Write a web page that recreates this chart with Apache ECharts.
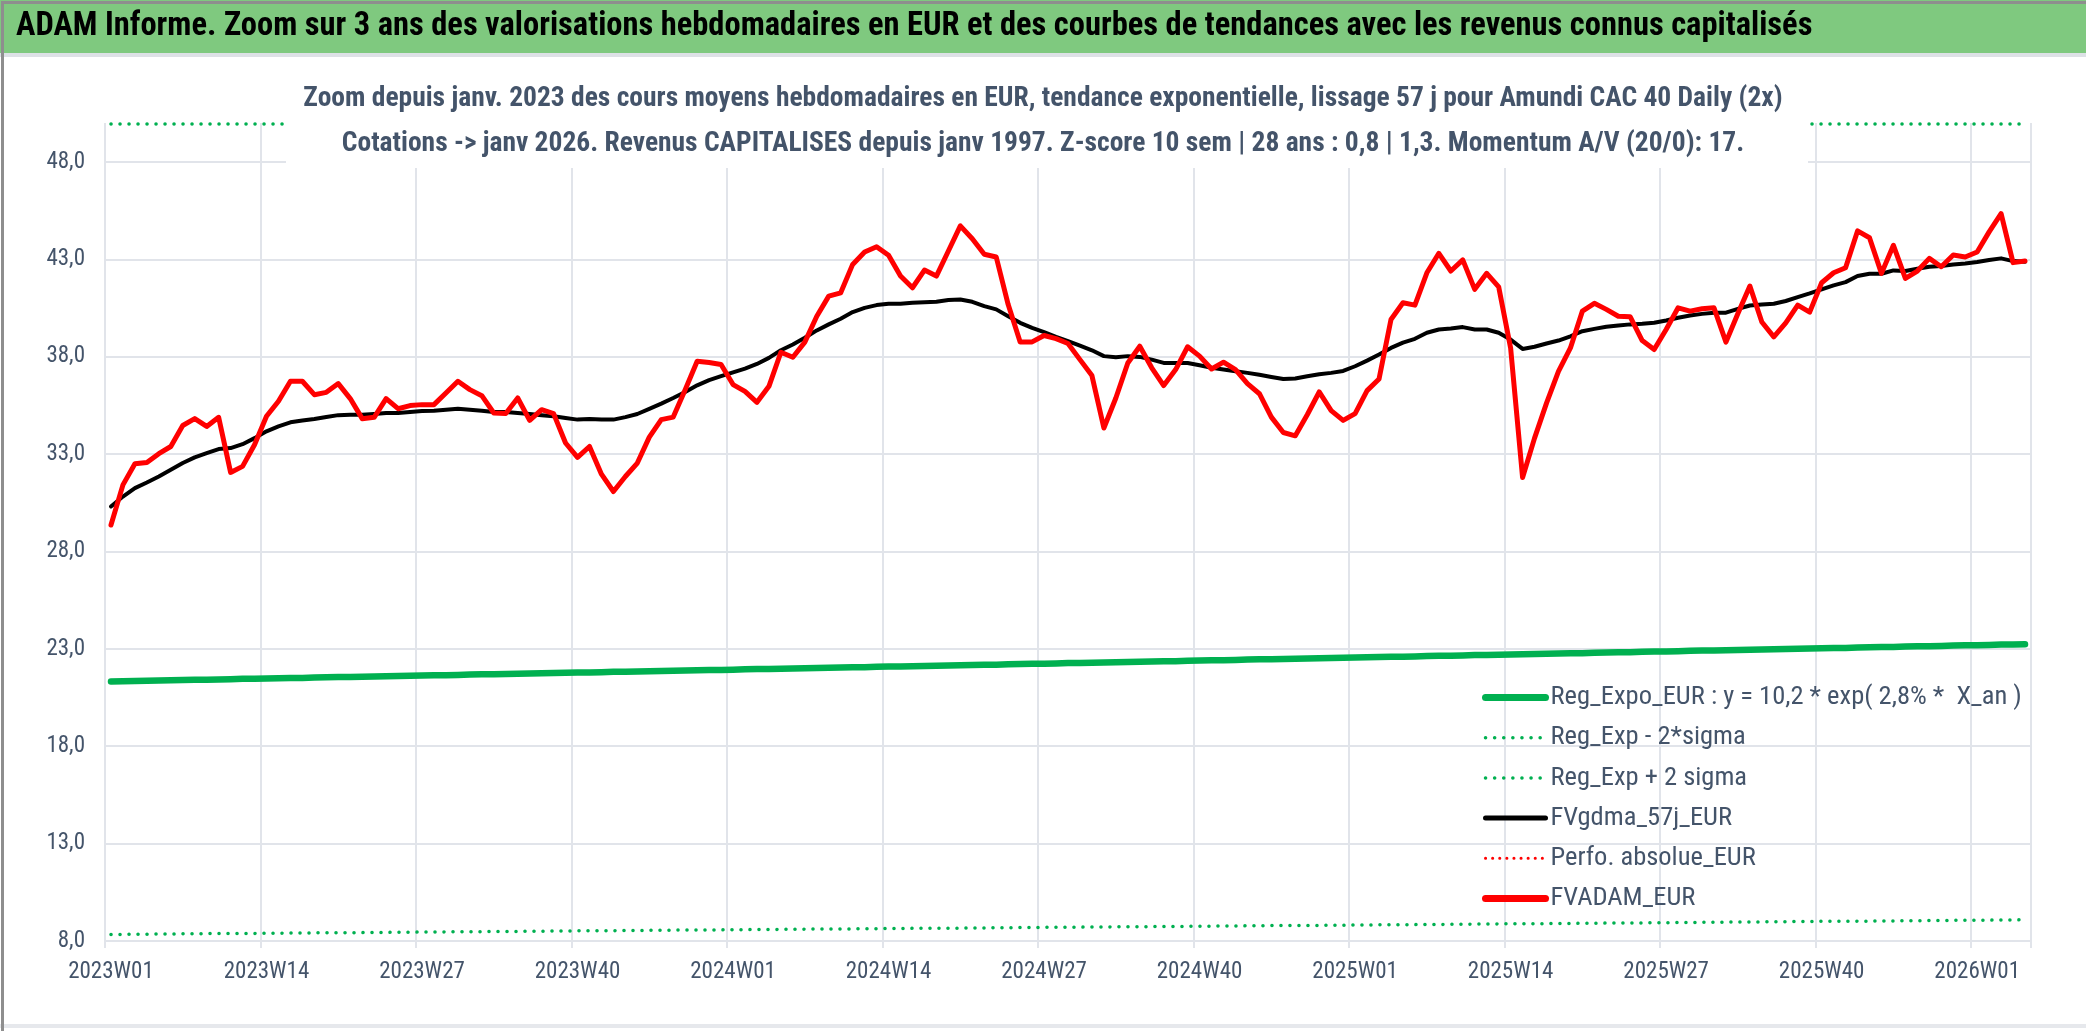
<!DOCTYPE html>
<html>
<head>
<meta charset="utf-8">
<script src="https://cdn.jsdelivr.net/npm/echarts@6/dist/echarts.min.js"></script>
<style>
html,body{margin:0;padding:0;background:#fff;}
#chart{width:2086px;height:1031px;}
</style>
</head>
<body>
<div id="chart"></div>
<script>
// ---- data ----
const yearLabels = ['2023', '2024', '2025', '2026'];
const weeksPerYear = [52, 52, 52, 5];

const fvadam = [
29.36,31.42,32.50,32.57,33.02,33.39,34.47,34.82,34.42,34.89,
32.06,32.37,33.48,34.94,35.71,36.74,36.74,36.05,36.17,36.62,
35.85,34.82,34.89,35.85,35.33,35.49,35.54,35.54,36.14,36.74,
36.31,36.00,35.11,35.08,35.88,34.73,35.28,35.08,33.57,32.83,
33.39,31.97,31.08,31.85,32.54,33.87,34.77,34.90,36.31,37.77,
37.70,37.60,36.57,36.22,35.66,36.48,38.23,37.97,38.75,40.08,
41.11,41.28,42.74,43.38,43.65,43.21,42.14,41.54,42.45,42.14,
43.43,44.72,44.06,43.26,43.12,40.68,38.76,38.76,39.09,38.93,
38.68,37.85,37.03,34.34,35.88,37.68,38.54,37.43,36.52,37.34,
38.51,38.03,37.37,37.72,37.34,36.62,36.10,34.90,34.11,33.94,
35.02,36.19,35.23,34.73,35.08,36.26,36.86,39.91,40.77,40.65,
42.31,43.31,42.40,42.97,41.46,42.28,41.59,38.45,31.80,33.82,
35.62,37.25,38.45,40.34,40.74,40.43,40.08,40.05,38.83,38.37,
39.40,40.51,40.34,40.46,40.51,38.75,40.22,41.63,39.78,39.02,
39.74,40.65,40.29,41.80,42.31,42.57,44.46,44.11,42.28,43.72,
42.02,42.40,43.05,42.62,43.22,43.12,43.38,44.41,45.35,42.83,
42.91
];

const fvgdma = [
30.31,30.82,31.25,31.54,31.85,32.19,32.54,32.83,33.05,33.26,
33.31,33.51,33.82,34.17,34.42,34.63,34.72,34.80,34.90,35.00,
35.02,35.02,35.06,35.11,35.11,35.16,35.21,35.23,35.28,35.33,
35.28,35.23,35.16,35.16,35.11,35.06,35.00,34.94,34.85,34.77,
34.80,34.77,34.77,34.90,35.06,35.32,35.59,35.88,36.19,36.53,
36.80,37.00,37.20,37.39,37.63,37.94,38.33,38.63,38.97,39.35,
39.66,39.95,40.29,40.51,40.65,40.72,40.72,40.77,40.80,40.82,
40.91,40.94,40.82,40.60,40.43,40.08,39.74,39.48,39.26,39.02,
38.80,38.57,38.33,38.03,37.97,38.03,37.99,37.85,37.68,37.68,
37.68,37.56,37.43,37.34,37.25,37.17,37.07,36.96,36.86,36.88,
37.00,37.10,37.17,37.27,37.51,37.80,38.11,38.45,38.72,38.92,
39.23,39.40,39.45,39.52,39.40,39.40,39.23,38.88,38.40,38.51,
38.68,38.83,39.05,39.31,39.43,39.54,39.60,39.66,39.69,39.74,
39.86,40.00,40.12,40.20,40.26,40.26,40.46,40.63,40.68,40.72,
40.86,41.06,41.25,41.46,41.66,41.83,42.14,42.26,42.26,42.43,
42.40,42.52,42.62,42.66,42.74,42.79,42.86,42.97,43.05,42.91,
42.88
];

const regExpo = [
21.33,21.34,21.35,21.36,21.38,21.39,21.40,21.41,21.42,21.43,
21.44,21.46,21.47,21.48,21.49,21.50,21.51,21.53,21.54,21.55,
21.56,21.57,21.58,21.59,21.61,21.62,21.63,21.64,21.65,21.66,
21.68,21.69,21.70,21.71,21.72,21.73,21.75,21.76,21.77,21.78,
21.79,21.80,21.82,21.83,21.84,21.85,21.86,21.87,21.89,21.90,
21.91,21.92,21.93,21.95,21.96,21.97,21.98,21.99,22.00,22.02,
22.03,22.04,22.05,22.06,22.08,22.09,22.10,22.11,22.12,22.13,
22.15,22.16,22.17,22.18,22.19,22.21,22.22,22.23,22.24,22.25,
22.27,22.28,22.29,22.30,22.31,22.33,22.34,22.35,22.36,22.37,
22.39,22.40,22.41,22.42,22.43,22.45,22.46,22.47,22.48,22.49,
22.51,22.52,22.53,22.54,22.55,22.57,22.58,22.59,22.60,22.61,
22.63,22.64,22.65,22.66,22.68,22.69,22.70,22.71,22.72,22.74,
22.75,22.76,22.77,22.78,22.80,22.81,22.82,22.83,22.85,22.86,
22.87,22.88,22.90,22.91,22.92,22.93,22.94,22.96,22.97,22.98,
22.99,23.01,23.02,23.03,23.04,23.05,23.07,23.08,23.09,23.10,
23.12,23.13,23.14,23.15,23.17,23.18,23.19,23.20,23.22,23.23,
23.24
];

const regLow = [
8.34,8.34,8.35,8.35,8.36,8.36,8.37,8.37,8.38,8.38,
8.38,8.39,8.39,8.40,8.40,8.41,8.41,8.42,8.42,8.43,
8.43,8.43,8.44,8.44,8.45,8.45,8.46,8.46,8.47,8.47,
8.48,8.48,8.49,8.49,8.49,8.50,8.50,8.51,8.51,8.52,
8.52,8.53,8.53,8.54,8.54,8.55,8.55,8.56,8.56,8.56,
8.57,8.57,8.58,8.58,8.59,8.59,8.60,8.60,8.61,8.61,
8.61,8.62,8.62,8.63,8.63,8.64,8.64,8.65,8.65,8.66,
8.66,8.66,8.67,8.67,8.68,8.68,8.69,8.69,8.70,8.70,
8.71,8.71,8.72,8.72,8.73,8.73,8.73,8.74,8.74,8.75,
8.75,8.76,8.76,8.77,8.77,8.78,8.78,8.79,8.79,8.80,
8.80,8.80,8.81,8.81,8.82,8.82,8.83,8.83,8.84,8.84,
8.85,8.85,8.86,8.86,8.87,8.87,8.88,8.88,8.89,8.89,
8.89,8.90,8.90,8.91,8.91,8.92,8.92,8.93,8.93,8.94,
8.94,8.95,8.95,8.96,8.96,8.97,8.97,8.98,8.98,8.99,
8.99,9.00,9.00,9.01,9.01,9.01,9.02,9.02,9.03,9.03,
9.04,9.04,9.05,9.05,9.06,9.06,9.07,9.07,9.08,9.08,
9.09
];

// upper band sits on the top edge of the plot in the picture
const regHigh = [
49.95,49.95,49.95,49.95,49.95,49.95,49.95,49.95,49.95,49.95,
49.95,49.95,49.95,49.95,49.95,49.95,49.95,49.95,49.95,49.95,
49.95,49.95,49.95,49.95,49.95,49.95,49.95,49.95,49.95,49.95,
49.95,49.95,49.95,49.95,49.95,49.95,49.95,49.95,49.95,49.95,
49.95,49.95,49.95,49.95,49.95,49.95,49.95,49.95,49.95,49.95,
49.95,49.95,49.95,49.95,49.95,49.95,49.95,49.95,49.95,49.95,
49.95,49.95,49.95,49.95,49.95,49.95,49.95,49.95,49.95,49.95,
49.95,49.95,49.95,49.95,49.95,49.95,49.95,49.95,49.95,49.95,
49.95,49.95,49.95,49.95,49.95,49.95,49.95,49.95,49.95,49.95,
49.95,49.95,49.95,49.95,49.95,49.95,49.95,49.95,49.95,49.95,
49.95,49.95,49.95,49.95,49.95,49.95,49.95,49.95,49.95,49.95,
49.95,49.95,49.95,49.95,49.95,49.95,49.95,49.95,49.95,49.95,
49.95,49.95,49.95,49.95,49.95,49.95,49.95,49.95,49.95,49.95,
49.95,49.95,49.95,49.95,49.95,49.95,49.95,49.95,49.95,49.95,
49.95,49.95,49.95,49.95,49.95,49.95,49.95,49.95,49.95,49.95,
49.95,49.95,49.95,49.95,49.95,49.95,49.95,49.95,49.95,49.95,
49.95
];

const perfoAbs = [];

const seriesNames = [
  'Reg_Expo_EUR : y = 10,2 * exp( 2,8% *  X_an )',
  'Reg_Exp - 2*sigma',
  'Reg_Exp + 2 sigma',
  'FVgdma_57j_EUR',
  'Perfo. absolue_EUR',
  'FVADAM_EUR'
];

const headerText = 'ADAM Informe. Zoom sur 3 ans des valorisations hebdomadaires en EUR et des courbes de tendances avec les revenus connus capitalisés';
const subLine1 = 'Zoom depuis janv. 2023 des cours moyens hebdomadaires en EUR, tendance exponentielle, lissage 57 j pour Amundi CAC 40 Daily (2x)';
const subLine2 = 'Cotations -> janv 2026. Revenus CAPITALISES depuis janv 1997. Z-score 10 sem | 28 ans : 0,8 | 1,3. Momentum A/V (20/0): 17.';

// categories: ISO week labels
const categories = [];
yearLabels.forEach((y, k) => {
  for (let w = 1; w <= weeksPerYear[k]; w++) {
    categories.push(y + 'W' + (w < 10 ? '0' + w : '' + w));
  }
});

// ---- chart ----
const FONT = "'Liberation Sans Narrow', 'Arial Narrow', 'Roboto Condensed', 'Liberation Sans', sans-serif";
const GRID = '#E1E4EA';
const TXT = '#44546A';
const GREEN = '#00B050';
const RED = '#FF0000';

const chart = echarts.init(document.getElementById('chart'), null, {renderer: 'canvas'});

const dottedStyle = (c) => ({color: c, width: 3.5, type: [0.1, 8.9], cap: 'round'});
const hideSym = {opacity: 0};

chart.setOption({
  animation: false,
  backgroundColor: '#ffffff',
  textStyle: {fontFamily: FONT},
  graphic: [
    {type: 'rect', left: 0, top: 0, z: -10, shape: {width: 2086, height: 53}, style: {fill: '#7FC97F'}},
    {type: 'rect', left: 0, top: 53, z: -10, shape: {width: 2086, height: 4}, style: {fill: '#DDE1E6'}},
    {type: 'rect', left: 0, top: 1024, z: -10, shape: {width: 2086, height: 4}, style: {fill: '#E6E8EC'}},
    {type: 'rect', left: 0, top: 0, z: 100, shape: {width: 2086, height: 1031}, style: {fill: 'none', stroke: '#8E8E8E', lineWidth: 3}}
  ],
  title: [
    {
      text: headerText,
      left: 16, top: 10, padding: 0,
      textStyle: {fontFamily: FONT, fontSize: 32.5, fontWeight: 'bold', color: '#000000'}
    },
    {
      text: subLine1 + '\n' + subLine2,
      left: 'center', top: 57,
      padding: [20, 15, 1, 7],
      backgroundColor: '#ffffff',
      z: 20,
      textStyle: {fontFamily: FONT, fontSize: 27.5, fontWeight: 'bold', color: TXT, lineHeight: 45, width: 1500, align: 'center'}
    }
  ],
  legend: {
    orient: 'vertical',
    left: 1477, top: 679,
    itemWidth: 60, itemHeight: 14, itemGap: 13.2,
    itemStyle: hideSym,
    textStyle: {fontFamily: FONT, fontSize: 26.5, color: TXT},
    data: [
      {name: seriesNames[0], itemStyle: hideSym, lineStyle: {width: 7, color: GREEN, type: 'solid', cap: 'round'}},
      {name: seriesNames[1], itemStyle: hideSym, lineStyle: {width: 3.5, color: GREEN, type: [0.1, 9], cap: 'round'}},
      {name: seriesNames[2], itemStyle: hideSym, lineStyle: {width: 3.5, color: GREEN, type: [0.1, 9], cap: 'round'}},
      {name: seriesNames[3], itemStyle: hideSym, lineStyle: {width: 5, color: '#000000', type: 'solid', cap: 'round'}},
      {name: seriesNames[4], itemStyle: hideSym, lineStyle: {width: 3, color: RED, type: [0.1, 7], cap: 'round'}},
      {name: seriesNames[5], itemStyle: hideSym, lineStyle: {width: 7, color: RED, type: 'solid', cap: 'round'}}
    ]
  },
  grid: {left: 105, right: 55, top: 123, bottom: 90, containLabel: false},
  xAxis: {
    type: 'category',
    data: categories,
    boundaryGap: true,
    axisLine: {show: true, lineStyle: {color: GRID, width: 2}},
    axisTick: {show: true, interval: 12, length: 7, lineStyle: {color: GRID, width: 2}},
    axisLabel: {interval: 12, margin: 20, fontFamily: FONT, fontSize: 23, color: TXT},
    splitLine: {show: true, interval: 12, lineStyle: {color: GRID, width: 2}}
  },
  yAxis: {
    type: 'value',
    min: 8, max: 50, interval: 5,
    axisLine: {show: false},
    axisTick: {show: false},
    axisLabel: {
      margin: 20, fontFamily: FONT, fontSize: 23, color: TXT, showMaxLabel: false,
      formatter: (v) => ((v - 8) % 5 === 0 ? v.toFixed(1).replace('.', ',') : '')
    },
    splitLine: {show: true, showMaxLine: false, lineStyle: {color: GRID, width: 2}}
  },
  series: [
    {name: seriesNames[0], type: 'line', data: regExpo, symbol: 'none', z: 2,
     lineStyle: {color: GREEN, width: 6.5, cap: 'round', join: 'round'}, itemStyle: {color: GREEN}},
    {name: seriesNames[1], type: 'line', data: regLow, symbol: 'none', z: 2,
     lineStyle: dottedStyle(GREEN), itemStyle: {color: GREEN}},
    {name: seriesNames[2], type: 'line', data: regHigh, symbol: 'none', z: 2,
     lineStyle: dottedStyle(GREEN), itemStyle: {color: GREEN}},
    {name: seriesNames[3], type: 'line', data: fvgdma, symbol: 'none', z: 3,
     lineStyle: {color: '#000000', width: 4, cap: 'round', join: 'round'}, itemStyle: {color: '#000000'}},
    {name: seriesNames[4], type: 'line', data: perfoAbs, symbol: 'none', z: 3,
     lineStyle: {color: RED, width: 3, type: [0.1, 7], cap: 'round'}, itemStyle: {color: RED}},
    {name: seriesNames[5], type: 'line', data: fvadam, symbol: 'none', z: 4,
     lineStyle: {color: RED, width: 5, cap: 'round', join: 'round'}, itemStyle: {color: RED}}
  ]
});
</script>
</body>
</html>
